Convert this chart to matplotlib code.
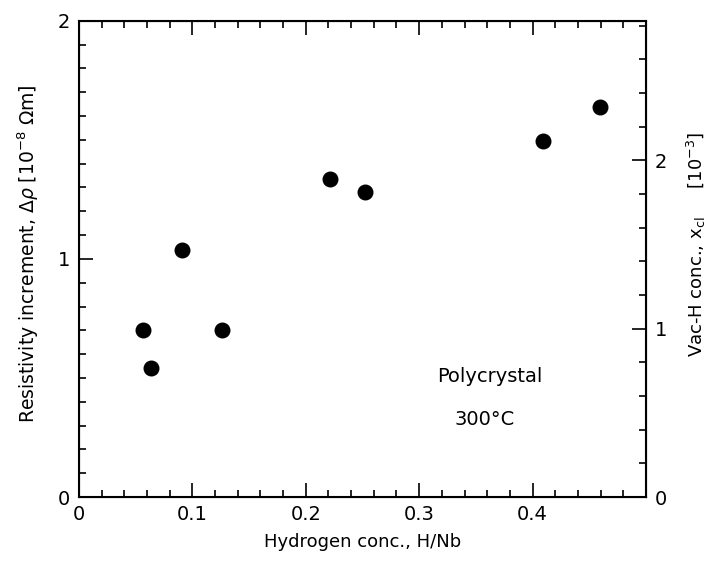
import matplotlib
matplotlib.use("Agg")
import matplotlib.pyplot as plt
from matplotlib.ticker import MultipleLocator

# Data
h_conc = [0.057, 0.064, 0.091, 0.126, 0.221, 0.252, 0.409, 0.459]
delta_rho = [0.70, 0.54, 1.036, 0.70, 1.335, 1.279, 1.493, 1.637]

x_ticks = [0, 0.1, 0.2, 0.3, 0.4]
x_tick_labels = ["0", "0.1", "0.2", "0.3", "0.4"]
left_ticks = [0, 1, 2]
right_ticks = [0, 1, 2]
right_max = 2.83

plt.rcParams['font.family'] = ['DejaVu Sans']
fig = plt.figure(figsize=(7.1, 5.76), dpi=100)
ax = fig.add_axes([0.111, 0.137, 0.799, 0.827])

ax.scatter(h_conc, delta_rho, s=110, color='black', zorder=3)

ax.set_xlim(0, 0.5)
ax.set_ylim(0, 2)
ax.set_xticks(x_ticks)
ax.set_xticklabels(x_tick_labels)
ax.set_yticks(left_ticks)
ax.xaxis.set_minor_locator(MultipleLocator(0.02))
ax.yaxis.set_minor_locator(MultipleLocator(0.1))
ax.tick_params(which='both', direction='in', top=True, right=False, labelsize=14, width=1.2, pad=6)
ax.tick_params(which='major', length=10)
ax.tick_params(which='minor', length=5)
for s in ax.spines.values():
    s.set_linewidth(1.5)

ax.set_xlabel('Hydrogen conc., H/Nb', fontsize=13)
ax.xaxis.set_label_coords(0.5, -0.075)
ax.set_ylabel(r'Resistivity increment, $\Delta\rho$ [10$^{-8}$ $\Omega$m]', fontsize=13.5)
ax.yaxis.set_label_coords(-0.067, 0.51)

ax2 = ax.twinx()
ax2.set_ylim(0, right_max)
ax2.set_yticks(right_ticks)
ax2.yaxis.set_minor_locator(MultipleLocator(0.2))
ax2.tick_params(which='both', direction='in', labelsize=14, width=1.2, pad=6)
ax2.tick_params(which='major', length=10)
ax2.tick_params(which='minor', length=5)
ax2.set_ylabel(r'Vac-H conc., x$_{\rm cl}$     [10$^{-3}$]', fontsize=13, rotation=90)
ax2.yaxis.set_label_coords(1.068, 0.53)

ax.text(0.362, 0.505, 'Polycrystal', fontsize=14, ha='center', va='center')
ax.text(0.358, 0.325, '300°C', fontsize=14, ha='center', va='center')

fig.savefig('out.png', dpi=100)
